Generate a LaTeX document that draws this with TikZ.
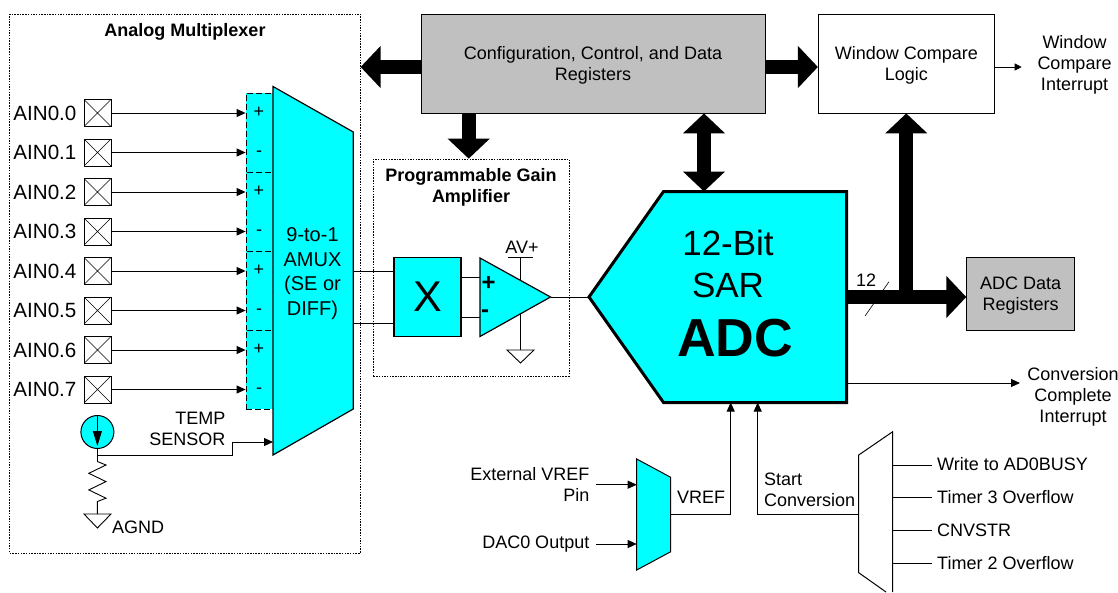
\documentclass[tikz,border=0pt]{standalone}
\usepackage{fontspec}
\setmainfont{Liberation Sans}
\usetikzlibrary{arrows.meta,positioning}
\definecolor{adccyan}{HTML}{00FFFF}
\definecolor{reggray}{HTML}{C0C0C0}
\newcommand{\txtsize}{\fontsize{18}{21}\selectfont}
\newcommand{\dropline}{\rule{0pt}{16.5pt}}
\tikzset{
block/.style={rectangle, draw, text centered, align=center, inner sep=0pt, line width=0.8pt, font=\txtsize},
graybox/.style={block, fill=reggray},
dashbox/.style={rectangle, draw, inner sep=0pt, line width=0.7pt, dash pattern=on 1.5pt off 1.2pt},
strip/.style={rectangle, draw, fill=adccyan, inner sep=0pt, minimum width=27pt, line width=0.8pt, dash pattern=on 6pt off 3pt},
pinbox/.style={rectangle, draw, inner sep=0pt, minimum size=27pt, line width=0.8pt,
  path picture={\draw[line width=0.6pt] (path picture bounding box.north west) -- (path picture bounding box.south east)
    (path picture bounding box.north east) -- (path picture bounding box.south west);}},
shape fill/.style={draw, fill=adccyan, line width=1.2pt, line join=miter},
lbl/.style={inner sep=0pt, align=center, font=\txtsize},
pinlbl/.style={inner sep=0pt, font=\fontsize{20.6}{24}\selectfont},
sign/.style={inner sep=0pt, font=\fontsize{18}{20}\selectfont},
line/.style={draw, line width=0.9pt, -{Triangle[length=9pt,width=8pt]}},
wire/.style={draw, line width=0.9pt},
gnd/.style={draw, line width=0.9pt},
bus/.style={draw, line width=14pt, -{Triangle[length=20pt,width=41pt]}},
bothbus/.style={draw, line width=14pt, {Triangle[length=20pt,width=41pt]}-{Triangle[length=20pt,width=41pt]}}
}
\begin{document}
\begin{tikzpicture}[x=1pt, y=-1pt]
    \useasboundingbox (0,0) rectangle (1118,592);
    % Place boxes
    \node [dashbox, minimum width=350.5pt, minimum height=539pt] (analogmux) at (185,283.5) {};
    \node [dashbox, minimum width=195.5pt, minimum height=217pt] (pgabox) at (471.2,267.5) {};
    \node [lbl, font=\txtsize\bfseries] (muxtitle) at (185,32) {Analog Multiplexer};
    \node [lbl, font=\txtsize\bfseries] (pgatitle) at (471,187) {Programmable Gain\\Amplifier};
    \node [graybox, minimum width=344pt, minimum height=99pt] (confreg) at (593,63.5) {\dropline Configuration, Control, and Data\\Registers};
    \node [block, minimum width=176pt, minimum height=99pt] (winlogic) at (906.3,63.5) {\dropline Window Compare\\Logic};
    \node [graybox, minimum width=108pt, minimum height=72.5pt] (adcreg) at (1020.7,294) {\dropline ADC Data\\Registers};
    \node [lbl] (winint) at (1074.5,65) {Window\\Compare\\Interrupt};
    \node [lbl] (convint) at (1073,397) {Conversion\\Complete\\Interrupt};
    % Place input pins
    \node [pinbox] (pin0) at (97.5,113) {};
    \node [pinbox] (pin1) at (97.5,152.5) {};
    \node [pinbox] (pin2) at (97.5,192) {};
    \node [pinbox] (pin3) at (97.5,231.5) {};
    \node [pinbox] (pin4) at (97.5,271) {};
    \node [pinbox] (pin5) at (97.5,310.5) {};
    \node [pinbox] (pin6) at (97.5,350) {};
    \node [pinbox] (pin7) at (97.5,389.5) {};
    \node [pinlbl, left=7pt of pin0] (ain0) {AIN0.0};
    \node [pinlbl, left=7pt of pin1] (ain1) {AIN0.1};
    \node [pinlbl, left=7pt of pin2] (ain2) {AIN0.2};
    \node [pinlbl, left=7pt of pin3] (ain3) {AIN0.3};
    \node [pinlbl, left=7pt of pin4] (ain4) {AIN0.4};
    \node [pinlbl, left=7pt of pin5] (ain5) {AIN0.5};
    \node [pinlbl, left=7pt of pin6] (ain6) {AIN0.6};
    \node [pinlbl, left=7pt of pin7] (ain7) {AIN0.7};
    % Place the strip beside the AMUX
    \node [strip, minimum height=79pt] (strip0) at (259.5,132.5) {};
    \node [strip, minimum height=79pt] (strip1) at (259.5,211.5) {};
    \node [strip, minimum height=79pt] (strip2) at (259.5,290.5) {};
    \node [strip, minimum height=79pt] (strip3) at (259.5,369.5) {};
    \node [sign] (p0) at (259,112) {+};
    \node [sign] (m0) at (259,153.5) {-};
    \node [sign] (p1) at (259,191) {+};
    \node [sign] (m1) at (259,232.5) {-};
    \node [sign] (p2) at (259,270) {+};
    \node [sign] (m2) at (259,311.5) {-};
    \node [sign] (p3) at (259,349) {+};
    \node [sign] (m3) at (259,390.5) {-};
    % AMUX
    \draw [shape fill] (273,86.5) coordinate (amuxtl) -- (353.3,132) coordinate (amuxtr)
        -- (353.3,409) coordinate (amuxbr) -- (273,455) coordinate (amuxbl) -- cycle;
    \node [lbl, font=\fontsize{20}{24.6}\selectfont] (amuxtext) at (312.5,273.5) {9-to-1\\AMUX\\(SE or\\DIFF)};
    \coordinate (amuxtemp) at (273,442);
    \coordinate (amuxpos) at (353.3,271);
    \coordinate (amuxneg) at (353.3,323.5);
    % Temp sensor
    \node [circle, shape fill, line width=1pt, minimum size=33pt, inner sep=0pt] (tempsrc) at (97.4,432) {};
    \coordinate (tempjoin) at (97.4,455);
    \coordinate (rtop) at (97.4,461.5);
    \coordinate (rbot) at (97.4,501.5);
    \coordinate (agndtop) at (97.4,514);
    \node [lbl, align=right, anchor=east] (templbl) at (225.5,429) {TEMP\\SENSOR};
    \node [lbl, anchor=west] (agnd) at (112,527) {AGND};
    % Amplifier
    \node [block, fill=adccyan, line width=1.2pt, minimum width=67pt, minimum height=79pt, font=\fontsize{43}{48}\selectfont] (xbox) at (427.5,297) {X};
    \draw [shape fill] (480,258) coordinate (optl) -- (550.5,297) coordinate (optip) -- (480,336.5) coordinate (opbl) -- cycle;
    \coordinate (oppos) at (480,277);
    \coordinate (opneg) at (480,317);
    \node [inner sep=0pt, font=\fontsize{24}{26}\selectfont\bfseries] (opplus) at (488.5,283) {+};
    \node [inner sep=0pt, font=\fontsize{24}{26}\selectfont\bfseries] (opminus) at (485,313.5) {-};
    \node [lbl] (avplus) at (522,247) {AV+};
    \coordinate (avtop) at (520.5,257);
    \coordinate (optop) at (520.5,280);
    \coordinate (opbot) at (520.5,314);
    \coordinate (opgnd) at (520.5,350);
    % ADC
    \draw [shape fill, line width=3pt] (589,297) coordinate (adctip) -- (663.5,191.5) coordinate (adctl) -- (846.5,191.5) coordinate (adctr)
        -- (846.5,402.5) coordinate (adcbr) -- (663.5,402.5) coordinate (adcbl) -- cycle;
    \node [inner sep=0pt, font=\fontsize{35}{40}\selectfont] (adc12) at (728,243) {12-Bit};
    \node [inner sep=0pt, font=\fontsize{35}{40}\selectfont] (adcsar) at (728,285) {SAR};
    \node [inner sep=0pt, font=\fontsize{53.5}{60}\selectfont\bfseries] (adcname) at (735,338) {ADC};
    \coordinate (adcout) at (846.5,297);
    \coordinate (adcint) at (846.5,383);
    \coordinate (adcvref) at (730.7,402.5);
    \coordinate (adcstart) at (757.7,402.5);
    \coordinate (adcctl) at (704,191.5);
    \coordinate (busjoin) at (906.3,297);
    \node [lbl] (buswidth) at (866,280) {12};
    \coordinate (slasha) at (865,316);
    \coordinate (slashb) at (889,281.7);
    % VREF mux
    \draw [shape fill, line width=1pt] (636.7,459) coordinate (vreftl) -- (670.7,477.3) coordinate (vreftr)
        -- (670.7,551.7) coordinate (vrefbr) -- (636.7,570) coordinate (vrefbl) -- cycle;
    \coordinate (vrefout) at (670.7,514.3);
    \coordinate (vrefa) at (636.7,484.7);
    \coordinate (vrefb) at (636.7,544);
    \node [lbl, align=right, anchor=east] (extvref) at (589.5,484) {External VREF\\Pin};
    \node [lbl, anchor=east] (dacout) at (589.5,544.5) {DAC0 Output};
    \coordinate (extfrom) at (596,484.7);
    \coordinate (dacfrom) at (596,544);
    \node [lbl, anchor=west] (vreflbl) at (677,497) {VREF};
    % Start conversion mux
    \draw [draw, line width=1pt] (886,592) -- (858.7,572.7) coordinate (starbl) -- (858.7,455) coordinate (startl)
        -- (892.7,431.7) coordinate (startr) -- (892.7,592) coordinate (starbr);
    \coordinate (starout) at (858.7,514.3);
    \node [lbl, align=left, anchor=west] (startlbl) at (764,489.5) {Start\\Conversion};
    \node [lbl, anchor=west] (trig0) at (937,464) {Write to AD0BUSY};
    \node [lbl, anchor=west] (trig1) at (937,497) {Timer 3 Overflow};
    \node [lbl, anchor=west] (trig2) at (937,530) {CNVSTR};
    \node [lbl, anchor=west] (trig3) at (937,563) {Timer 2 Overflow};
    \coordinate (star0) at (892.7,465);
    \coordinate (star1) at (892.7,497.7);
    \coordinate (star2) at (892.7,530.7);
    \coordinate (star3) at (892.7,563.3);
    % Draw edges
    \path [line] (pin0) -- (pin0 -| strip0.west);
    \path [line] (pin1) -- (pin1 -| strip0.west);
    \path [line] (pin2) -- (pin2 -| strip1.west);
    \path [line] (pin3) -- (pin3 -| strip1.west);
    \path [line] (pin4) -- (pin4 -| strip2.west);
    \path [line] (pin5) -- (pin5 -| strip2.west);
    \path [line] (pin6) -- (pin6 -| strip3.west);
    \path [line] (pin7) -- (pin7 -| strip3.west);
    \draw [line width=0.9pt, -{Triangle[length=15pt,width=9pt]}] (tempsrc.north) -- ([yshift=3pt]tempsrc.south);
    \path [wire] (tempsrc.south) -- (tempjoin) -- (rtop);
    \path [line] (tempjoin) -| (232,442) -- (amuxtemp);
    \path [wire] (rtop) -- ++(8.6,3.5) -- ++(-17.2,8.3) -- ++(17.2,8.3) -- ++(-17.2,8.3) -- ++(17.2,8.3) -- (rbot) -- (agndtop);
    \path [gnd] (84,514) -- (111,514) -- (97.4,528) -- cycle;
    \path [wire] (amuxpos) -- (amuxpos -| xbox.west);
    \path [wire] (amuxneg) -- (amuxneg -| xbox.west);
    \path [wire] (oppos -| xbox.east) -- (oppos);
    \path [wire] (opneg -| xbox.east) -- (opneg);
    \path [wire] (optip) -- (adctip);
    \path [wire] (avtop) -- (optop);
    \path [wire] (508,257) -- (533,257);
    \path [wire] (opbot) -- (opgnd);
    \path [gnd] (507,350) -- (534,350) -- (520.5,363) -- cycle;
    \path [bus] ([yshift=-3.5pt]confreg.west) -- ([yshift=-3.5pt]confreg.west -| analogmux.east);
    \path [bus] ([yshift=-3.5pt]confreg.east) -- ([yshift=-3.5pt]winlogic.west);
    \path [bus] ([xshift=-2.5pt]pgabox.north |- confreg.south) -- ([xshift=-2.5pt]pgabox.north);
    \path [bothbus] (adcctl |- confreg.south) -- (adcctl);
    \path [bus] (adcout) -- (adcreg.west |- adcout);
    \path [bus] (busjoin) -- (winlogic.south);
    \path [draw, line width=0.6pt] (slasha) -- (slashb);
    \path [line, line width=0.7pt, -{Triangle[length=7pt,width=7pt]}] ([yshift=-3.5pt]winlogic.east) -- ++(27,0);
    \path [line] (adcint) -- (1020,383);
    \path [line] (vrefout) -| (adcvref);
    \path [line] (starout) -| (adcstart);
    \path [line] (extfrom) -- (vrefa);
    \path [line] (dacfrom) -- (vrefb);
    \path [wire] (star0) -- ++(39,0);
    \path [wire] (star1) -- ++(39,0);
    \path [wire] (star2) -- ++(39,0);
    \path [wire] (star3) -- ++(39,0);
\end{tikzpicture}
\end{document}
